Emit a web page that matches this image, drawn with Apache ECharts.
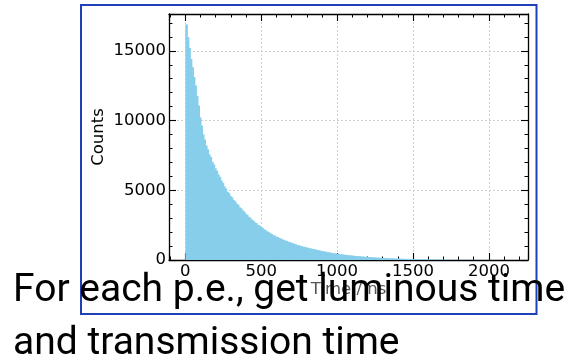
<!DOCTYPE html>
<html><head><meta charset="utf-8">
<script src="https://cdn.jsdelivr.net/npm/echarts@6/dist/echarts.min.js"></script>
<style>html,body{margin:0;padding:0;background:#fff}#c{width:569px;height:358px}</style>
</head><body><div id="c"></div>
<script>
// ---- data ----
const binStart = 0;      // ns, left edge of first bin
const binWidth = 10;     // ns
const counts = [
  16900, 15980, 15210, 14420, 13830, 13120, 12510, 11760, 11080, 10230,
  9640, 9010, 8630, 8210, 7940, 7580, 7390, 7040, 6860, 6570,
  6410, 6120, 5960, 5690, 5530, 5270, 5120, 4890, 4790, 4580,
  4490, 4300, 4220, 4040, 3970, 3780, 3710, 3550, 3470, 3310,
  3240, 3090, 3030, 2890, 2830, 2700, 2650, 2520, 2480, 2360,
  2320, 2200, 2160, 2050, 2020, 1920, 1890, 1780, 1760, 1680,
  1650, 1580, 1550, 1480, 1450, 1390, 1370, 1310, 1290, 1230,
  1210, 1150, 1130, 1070, 1060, 1010, 1000, 950, 940, 890,
  880, 840, 830, 790, 780, 740, 730, 690, 680, 640,
  630, 600, 590, 560, 550, 520, 510, 480, 475, 450,
  445, 420, 415, 390, 385, 362, 355, 336, 331, 312,
  308, 292, 288, 272, 268, 252, 249, 234, 231, 218,
  214, 202, 199, 186, 184, 172, 169, 159, 157, 147,
  145, 135, 134, 125, 123, 115, 114, 106, 105, 98,
  97, 91, 90, 84, 83, 77, 76, 70, 69, 64,
  63, 58, 57, 53, 52, 48, 47, 43, 43, 40,
  39, 36, 35, 33, 32, 30, 29, 27, 26, 24,
  24, 22, 21, 20, 19, 18, 17, 16, 16, 15,
  14, 13, 13, 12, 12, 11, 10, 10, 9, 9,
  8, 8, 7, 7, 7, 6, 6, 6, 5, 5,
  5, 4, 4, 4, 4, 3, 3, 3, 3, 3,
  2, 2, 2, 2, 2
];
const xRange = [-107.5, 2257.5];
const yRange = [0, 17640];
const yTickStep = 5000;
const xAxisTitle = 'Time / ns';
const yAxisTitle = 'Counts';
const captionLines = ['For each p.e., get luminous time', 'and transmission time'];

// ---- build ----
const bins = counts.map((c, i) => [binStart + i * binWidth, binStart + (i + 1) * binWidth, c]);
const chart = echarts.init(document.getElementById('c'), null, {renderer: 'canvas'});
const font = 'DejaVu Sans';
const lineStyle = {color: '#000', width: 1.3};
const tickStyle = {color: '#000', width: 1.1};
const gridLine = {show: true, lineStyle: {color: '#c4c4c4', type: [2, 2], width: 0.8}};
const labelStyle = {fontFamily: font, fontSize: 16.5, color: '#000', formatter: v => String(v)};

function frameAxis(pos, extra) {
  return Object.assign({
    type: 'value', position: pos,
    axisLine: {show: true, onZero: false, lineStyle: lineStyle},
    axisTick: {show: true, inside: true, length: 7, lineStyle: tickStyle},
    minorTick: {show: true, splitNumber: 5, length: 3.5, lineStyle: {color: '#000', width: 1}},
    axisLabel: {show: false},
    splitLine: {show: false}
  }, extra);
}

const option = {
  animation: false,
  backgroundColor: '#fff',
  grid: {left: 169, right: 41, top: 14, bottom: 98},
  xAxis: [
    frameAxis('bottom', {
      min: xRange[0], max: xRange[1], splitNumber: 5,
      axisLabel: Object.assign({show: true, showMinLabel: false, showMaxLabel: false, margin: 3}, labelStyle),
      splitLine: gridLine,
      name: xAxisTitle, nameLocation: 'middle', nameGap: 21, nameMoveOverlap: false,
      nameTextStyle: {fontFamily: font, fontSize: 16.5, color: '#555'}
    }),
    frameAxis('top', {min: xRange[0], max: xRange[1], splitNumber: 5})
  ],
  yAxis: [
    frameAxis('left', {
      min: yRange[0], max: yRange[1], interval: yTickStep,
      axisLabel: Object.assign({show: true, showMaxLabel: false, margin: 3}, labelStyle),
      splitLine: gridLine,
      name: yAxisTitle, nameLocation: 'middle', nameGap: 62, nameMoveOverlap: false,
      nameTextStyle: {fontFamily: font, fontSize: 16.5, color: '#000'}
    }),
    frameAxis('right', {min: yRange[0], max: yRange[1], interval: yTickStep})
  ],
  series: [{
    type: 'custom', xAxisIndex: 0, yAxisIndex: 0, data: bins, clip: true,
    encode: {x: [0, 1], y: 2},
    renderItem: function (params, api) {
      const a = api.coord([api.value(0), api.value(2)]);
      const b = api.coord([api.value(1), 0]);
      return {type: 'rect', shape: {x: a[0], y: a[1], width: b[0] - a[0] + 1, height: b[1] - a[1]},
              style: {fill: '#87ceeb'}};
    }
  }],
  graphic: [
    {type: 'rect', z: 100, silent: true, shape: {x: 81, y: 5, width: 455.5, height: 309},
     style: {fill: null, stroke: '#1f40b8', lineWidth: 2}},
    {type: 'text', z: 110, x: 13, y: 272, silent: true,
     style: {text: captionLines[0], font: '39px Roboto', fill: '#000', verticalAlign: 'top'}},
    {type: 'text', z: 110, x: 13, y: 325, silent: true,
     style: {text: captionLines[1], font: '39px Roboto', fill: '#000', verticalAlign: 'top'}}
  ]
};
chart.setOption(option);
</script></body></html>
